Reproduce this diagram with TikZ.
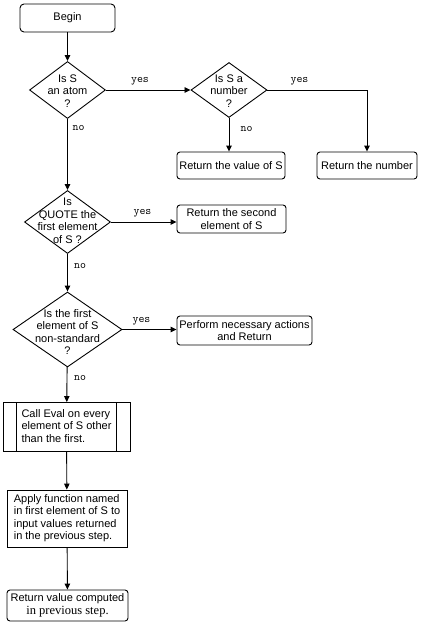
\documentclass[tikz,border=0pt]{standalone}
\usepackage{fontspec}
\setmainfont{Liberation Sans}
\newfontfamily\stepfont{Liberation Serif}
\usetikzlibrary{shapes.geometric,arrows.meta}

\tikzset{
  box/.style={draw, line width=0.9pt, inner sep=0pt, align=center},
  rbox/.style={box, rounded corners=3pt},
  decision/.style={draw, diamond, line width=0.9pt, inner sep=0pt},
  qtext/.style={align=center, inner sep=0pt},
  answer/.style={font=\ttfamily\fontsize{11.5}{12}\selectfont, inner sep=0pt},
  flow/.style={line width=0.9pt, -{Triangle[length=6pt,width=5.5pt]}}
}

\begin{document}
\begin{tikzpicture}[x=1pt, y=-1pt, font=\fontsize{11}{12.5}\selectfont]
	\useasboundingbox (0,0) rectangle (423,627);

	% start
	\node [rbox, rounded corners=4pt, minimum width=95pt, minimum height=28pt]
	(begin) at (67.5, 18) {Begin};

	% is S an atom ?
	\node [decision, minimum width=76pt, minimum height=57pt] (atom) at (67.5, 90) {};
	\node [qtext] (atomq) at (67.5, 91) {Is S\\an atom\\?};

	% is S a number ?
	\node [decision, minimum width=76pt, minimum height=55pt] (number) at (229, 90) {};
	\node [qtext] (numberq) at (229, 91) {Is S a\\number\\?};

	\node [rbox, minimum width=108pt, minimum height=27pt] (value) at (231, 165.5)
	{Return the value of S};
	\node [rbox, minimum width=100pt, minimum height=27pt] (numbox) at (367, 165.5)
	{Return the number};

	% quote ?
	\node [decision, minimum width=86pt, minimum height=63pt] (quote) at (67.5, 222) {};
	\node [qtext] (quoteq) at (67.5, 221) {Is\\QUOTE the\\first element\\of S ?};

	\node [rbox, minimum width=109pt, minimum height=28pt] (second) at (231.5, 219)
	{Return the second\\element of S};

	% non-standard ?
	\node [decision, minimum width=109pt, minimum height=75pt] (nonstd) at (67.5, 329.5) {};
	\node [qtext] (nonstdq) at (67.5, 332) {Is the first\\element of S\\non-standard\\?};

	\node [rbox, minimum width=135pt, minimum height=29pt] (perform) at (244.5, 330.5)
	{Perform necessary actions\\and Return};

	% evaluate the arguments
	\node [box, minimum width=127pt, minimum height=49pt] (call) at (66.5, 427)
	{\begin{tabular}{@{}l@{}}Call Eval on every\\element of S other\\than the first.\end{tabular}};
	\draw [line width=0.9pt] ([xshift=14pt]call.north west) -- ([xshift=14pt]call.south west);
	\draw [line width=0.9pt] ([xshift=-14pt]call.north east) -- ([xshift=-14pt]call.south east);

	\node [box, minimum width=120pt, minimum height=57pt] (apply) at (67, 518.5)
	{\begin{tabular}{@{}l@{}}Apply function named\\in first element of S to\\input values returned\\in the previous step.\end{tabular}};

	\node [rbox, minimum width=121pt, minimum height=31pt] (result) at (67.5, 605.5)
	{Return value computed\\{\stepfont\fontsize{12.5}{14}\selectfont in previous step.}};

	% connectors
	\draw [flow] (begin) -- (atom);
	\draw [flow] (atom) -- (number);
	\draw [flow] (number.south) -- (number.south |- value.north);
	\draw [flow] (number.east) -| (numbox.north);
	\draw [flow] (atom) -- (quote);
	\draw [flow] (quote.east) -- (quote.east -| second.west);
	\draw [flow] (quote) -- (nonstd);
	\draw [flow] (nonstd.east) -- (nonstd.east -| perform.west);
	\draw [flow] (nonstd) -- (call);
	\draw [flow] (call) -- (apply);
	\draw [flow] (apply) -- (result);

	% answers
	\node [answer] (atomyes) at (140, 81) {yes};
	\node [answer] (atomno) at (78.5, 128) {no};
	\node [answer] (numberyes) at (299.5, 81) {yes};
	\node [answer] (numberno) at (246.5, 129) {no};
	\node [answer] (quoteyes) at (142.5, 213) {yes};
	\node [answer] (quoteno) at (80, 266) {no};
	\node [answer] (nonstdyes) at (141.5, 321) {yes};
	\node [answer] (nonstdno) at (80, 378) {no};
\end{tikzpicture}
\end{document}
